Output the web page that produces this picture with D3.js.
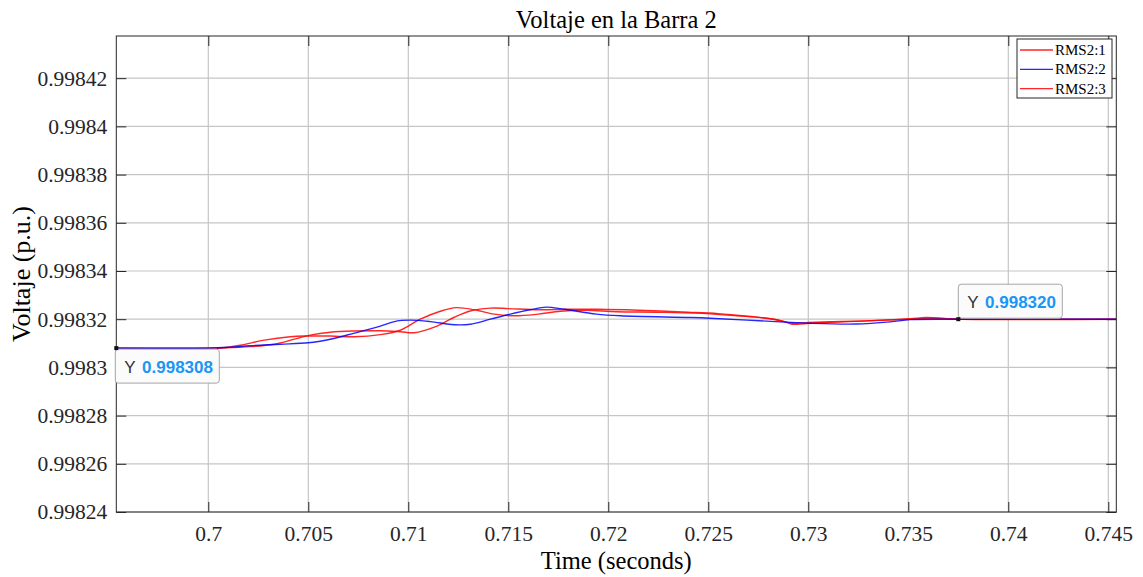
<!DOCTYPE html>
<html><head><meta charset="utf-8">
<script src="https://cdn.jsdelivr.net/npm/d3@7"></script>
<style>body{margin:0;background:#fff}svg{display:block}</style>
</head><body>
<svg id="c" width="1143" height="577"></svg>
<script>
const xTicks = [0.7,0.705,0.71,0.715,0.72,0.725,0.73,0.735,0.74,0.745];
const xTickLabels = ["0.7","0.705","0.71","0.715","0.72","0.725","0.73","0.735","0.74","0.745"];
const yTicks = [0.99824,0.99826,0.99828,0.9983,0.99832,0.99834,0.99836,0.99838,0.9984,0.99842];
const yTickLabels = ["0.99824","0.99826","0.99828","0.9983","0.99832","0.99834","0.99836","0.99838","0.9984","0.99842"];
const seriesNames = ["RMS2:1","RMS2:2","RMS2:3"];
const seriesColors = ["#ff0000","#0000ff","#ff0000"];

const rms1T = [0.6954,0.7000,0.7008,0.7021,0.7033,0.7043,0.7051,0.7061,0.7073,0.7086,0.7096,0.7103,0.7113,0.7123,0.7131,0.7141,0.7150,0.7165,0.7180,0.7195,0.7215,0.7240,0.7255,0.7270,0.7283,0.7292,0.7300,0.7324,0.7351,0.7362,0.7376,0.7454];
const rms1V = [0.998308,0.998308,0.9983081,0.9983086,0.9983096,0.9983117,0.9983134,0.9983146,0.9983151,0.9983152,0.9983148,0.9983144,0.9983167,0.9983208,0.9983234,0.9983246,0.9983244,0.9983239,0.9983241,0.9983241,0.9983237,0.9983229,0.9983223,0.9983212,0.99832,0.9983183,0.9983186,0.9983192,0.99832,0.9983204,0.99832,0.99832];

const rms2T = [0.6954,0.7000,0.7011,0.7021,0.7036,0.7050,0.7061,0.7073,0.7086,0.7094,0.7101,0.7111,0.7123,0.7131,0.7141,0.7151,0.7161,0.7169,0.7178,0.7194,0.7206,0.7241,0.7251,0.7286,0.7301,0.7324,0.7341,0.7351,0.7375,0.7454];
const rms2V = [0.998308,0.998308,0.9983084,0.998309,0.9983096,0.9983102,0.9983117,0.9983142,0.9983171,0.9983192,0.9983196,0.998319,0.9983177,0.9983179,0.99832,0.9983221,0.9983239,0.998325,0.9983241,0.9983221,0.9983214,0.9983207,0.9983204,0.9983189,0.9983183,0.998318,0.9983189,0.9983198,0.99832,0.99832];

const rms3T = [0.6954,0.7000,0.7006,0.7016,0.7028,0.7041,0.7048,0.7061,0.7073,0.7086,0.7096,0.7106,0.7116,0.7124,0.7133,0.7143,0.7153,0.7165,0.7176,0.7189,0.7204,0.7224,0.7244,0.7264,0.7279,0.7288,0.7292,0.7298,0.7310,0.7330,0.7351,0.7359,0.7372,0.7386,0.7454];
const rms3V = [0.998308,0.998308,0.998308,0.9983092,0.9983113,0.9983127,0.998313,0.998313,0.9983127,0.9983136,0.9983154,0.99832,0.9983233,0.9983248,0.9983239,0.9983221,0.9983214,0.9983221,0.9983233,0.9983237,0.9983231,0.9983229,0.9983225,0.9983214,0.9983204,0.998319,0.9983179,0.9983181,0.9983187,0.9983193,0.9983202,0.9983207,0.9983202,0.99832,0.99832];

const tipX = [0.6954, 0.7375];
const tipY = [0.998308, 0.998320];
const tipLabels = ["0.998308","0.998320"];

const xDomain = [0.6954, 0.7454];
const yDomain = [0.99824, 0.9984375];

const svg = d3.select("#c");
const L = 116.3, R = 1116.3, T = 36, B = 512;
const x = d3.scaleLinear().domain(xDomain).range([L, R]);
const y = d3.scaleLinear().domain(yDomain).range([B, T]);
const axisCol = "#262626", gridCol = "#c6c6c6";
const serif = "'Liberation Serif','Times New Roman',serif";
const sans = "'Liberation Sans',Arial,sans-serif";

// grid
const g = svg.append("g");
g.selectAll(".vg").data(xTicks).join("line")
  .attr("x1", d=>x(d)).attr("x2", d=>x(d)).attr("y1", T).attr("y2", B)
  .attr("stroke", gridCol).attr("stroke-width", 1.2);
g.selectAll(".hg").data(yTicks).join("line")
  .attr("y1", d=>y(d)).attr("y2", d=>y(d)).attr("x1", L).attr("x2", R)
  .attr("stroke", gridCol).attr("stroke-width", 1.2);

// axes
function styleAxis(sel){
  sel.select(".domain").remove();
  sel.selectAll(".tick line").attr("stroke", axisCol).attr("stroke-width",1);
  sel.selectAll(".tick text").attr("fill", "#262626").style("font-family", serif).style("font-size","21.5px");
}
const xa = svg.append("g").attr("transform", `translate(0,${B})`)
  .call(d3.axisBottom(x).tickValues(xTicks).tickFormat((d,i)=>xTickLabels[i]).tickSizeInner(-10).tickSizeOuter(0).tickPadding(14));
styleAxis(xa);
const xt = svg.append("g").attr("transform", `translate(0,${T})`)
  .call(d3.axisTop(x).tickValues(xTicks).tickFormat("").tickSizeInner(-10).tickSizeOuter(0));
styleAxis(xt);
const ya = svg.append("g").attr("transform", `translate(${L},0)`)
  .call(d3.axisLeft(y).tickValues(yTicks).tickFormat((d,i)=>yTickLabels[i]).tickSizeInner(-10).tickSizeOuter(0).tickPadding(9));
styleAxis(ya);
const yr = svg.append("g").attr("transform", `translate(${R},0)`)
  .call(d3.axisRight(y).tickValues(yTicks).tickFormat("").tickSizeInner(-10).tickSizeOuter(0));
styleAxis(yr);

// lines
const series = [
  {t: rms1T, v: rms1V},
  {t: rms2T, v: rms2V},
  {t: rms3T, v: rms3V}
];
const line = d3.line().x(d=>x(d[0])).y(d=>y(d[1])).curve(d3.curveCatmullRom.alpha(0.5));
svg.append("clipPath").attr("id","pc").append("rect").attr("x",L).attr("y",T).attr("width",R-L).attr("height",B-T);
const drawOrder = [0,2,1];
drawOrder.forEach(i=>{
  const s = series[i];
  svg.append("path").datum(s.t.map((t,k)=>[t, s.v[k]]))
    .attr("d", line).attr("fill","none").attr("stroke", seriesColors[i])
    .attr("stroke-width", 1.4).attr("stroke-opacity", 0.85).attr("clip-path","url(#pc)");
});

// box
svg.append("rect").attr("x",L).attr("y",T).attr("width",R-L).attr("height",B-T)
  .attr("fill","none").attr("stroke",axisCol).attr("stroke-width",1);

// title & labels
svg.append("text").attr("x", (L+R)/2).attr("y", 28).attr("text-anchor","middle")
  .style("font-family", serif).style("font-size","24.5px").attr("fill","#000").text("Voltaje en la Barra 2");
svg.append("text").attr("x", (L+R)/2).attr("y", 569).attr("text-anchor","middle")
  .style("font-family", serif).style("font-size","24.5px").attr("fill","#000").text("Time (seconds)");
svg.append("text").attr("transform", `translate(30,${(T+B)/2}) rotate(-90)`).attr("text-anchor","middle")
  .style("font-family", serif).style("font-size","26px").attr("fill","#000").text("Voltaje (p.u.)");

// legend
const lg = svg.append("g");
lg.append("rect").attr("x",1017).attr("y",39).attr("width",95).attr("height",59)
  .attr("fill","#fff").attr("stroke",axisCol).attr("stroke-width",1);
seriesNames.forEach((n,i)=>{
  const yy = 50 + i*19.3;
  lg.append("line").attr("x1",1020).attr("x2",1053).attr("y1",yy).attr("y2",yy)
    .attr("stroke",seriesColors[i]).attr("stroke-width",1.3).attr("stroke-opacity",0.85);
  lg.append("text").attr("x",1055).attr("y",yy+5).style("font-family",serif).style("font-size","15px")
    .attr("fill","#000").text(n);
});

// data tips
const tips = [
  {dx: 0, below: true},
  {dx: 1, below: false}
];
tipX.forEach((tx,i)=>{
  const px = x(tx), py = y(tipY[i]);
  const bx = px - 1 + tips[i].dx, by = tips[i].below ? py + 1 : py - 35;
  const tg = svg.append("g");
  tg.append("rect").attr("x",bx).attr("y",by).attr("width",104).attr("height",34).attr("rx",3)
    .attr("fill","#fbfbfc").attr("stroke","#a6a6a6").attr("stroke-width",1);
  const tx2 = tg.append("text").attr("x",bx+9).attr("y",by+24).style("font-family",sans).style("font-size","17px");
  tx2.append("tspan").attr("fill","#333").text("Y ");
  tx2.append("tspan").attr("fill","#1a96f5").attr("font-weight","bold").attr("dx",2).text(tipLabels[i]);
  tg.append("rect").attr("x",px-2).attr("y",py-2).attr("width",4).attr("height",4).attr("fill","#111");
});
</script>
</body></html>
